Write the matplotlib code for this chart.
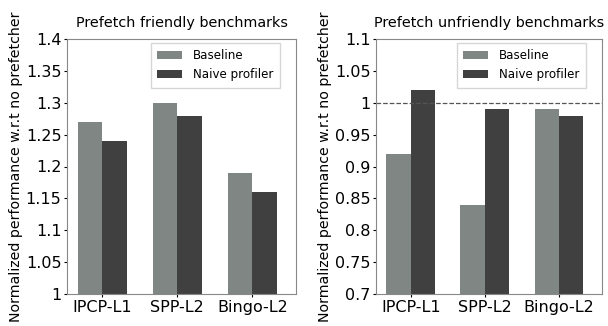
import matplotlib
matplotlib.use('Agg')
import matplotlib.pyplot as plt
import numpy as np

# === data ===
categories = ['IPCP-L1', 'SPP-L2', 'Bingo-L2']
friendly_baseline = [1.27, 1.30, 1.19]
friendly_naive = [1.24, 1.28, 1.16]
unfriendly_baseline = [0.92, 0.84, 0.99]
unfriendly_naive = [1.02, 0.99, 0.98]

friendly_ticks = [1, 1.05, 1.1, 1.15, 1.2, 1.25, 1.3, 1.35, 1.4]
friendly_ticklabels = ['1', '1.05', '1.1', '1.15', '1.2', '1.25', '1.3', '1.35', '1.4']
unfriendly_ticks = [0.7, 0.75, 0.8, 0.85, 0.9, 0.95, 1.0, 1.05, 1.1]
unfriendly_ticklabels = ['0.7', '0.75', '0.8', '0.85', '0.9', '0.95', '1', '1.05', '1.1']

C_BASE = '#7f8683'
C_NAIVE = '#404040'
W = 0.33

fig = plt.figure(figsize=(6.08, 3.26), dpi=100)
ax1 = fig.add_axes([67 / 608, 1 - 294 / 326, 229 / 608, 255 / 326])
ax2 = fig.add_axes([376 / 608, 1 - 294 / 326, 226 / 608, 255 / 326])

x = np.arange(len(categories))


def draw(ax, base, naive, ticks, labels, title):
    ax.bar(x - W / 2, base, W, color=C_BASE, label='Baseline')
    ax.bar(x + W / 2, naive, W, color=C_NAIVE, label='Naive profiler')
    ax.set_ylim(ticks[0], ticks[-1])
    ax.set_yticks(ticks)
    ax.set_yticklabels(labels, fontsize=11.5)
    ax.set_xticks(x)
    ax.set_xticklabels(categories, fontsize=11.5)
    ax.set_xlim(-0.47, 2.58)
    ax.set_title(title, fontsize=10.4, pad=9)
    ax.set_ylabel('Normalized performance w.r.t no prefetcher', fontsize=10.2, labelpad=2)
    ax.tick_params(length=2, pad=2)
    for s in ax.spines.values():
        s.set_color('#888888')
    ax.legend(loc='upper right', bbox_to_anchor=(0.93, 0.985), borderaxespad=0,
              fontsize=8.6, frameon=True, fancybox=False, edgecolor='#cccccc',
              handlelength=2.1, handletextpad=0.9, borderpad=0.55)


draw(ax1, friendly_baseline, friendly_naive, friendly_ticks, friendly_ticklabels,
     'Prefetch friendly benchmarks')
draw(ax2, unfriendly_baseline, unfriendly_naive, unfriendly_ticks, unfriendly_ticklabels,
     'Prefetch unfriendly benchmarks')
ax2.axhline(1.0, color='#555555', linestyle='--', linewidth=0.9)

fig.savefig('out.png', dpi=100, facecolor='white')
